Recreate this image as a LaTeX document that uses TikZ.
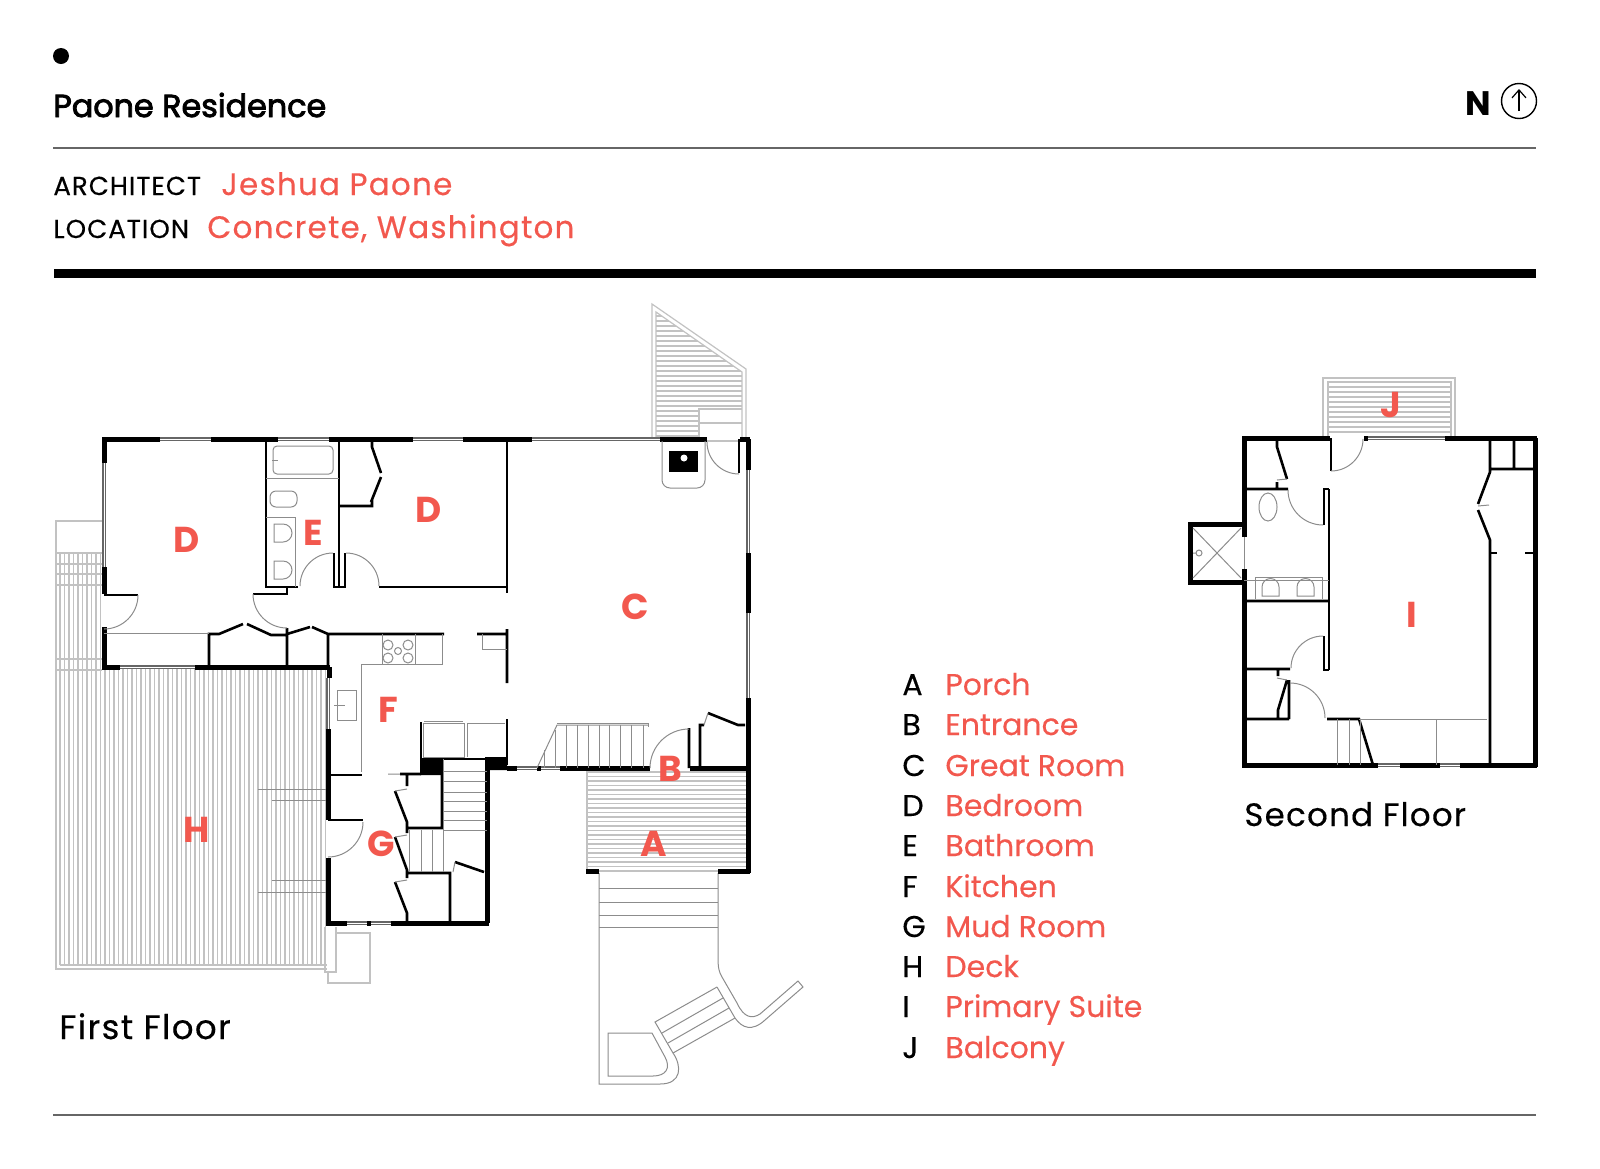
\documentclass[tikz,border=0pt]{standalone}
\usepackage{fontspec}
\usetikzlibrary{arrows.meta}
\setmainfont{Poppins}
\newfontfamily\plain[FakeBold=0.35]{Poppins}
\newfontfamily\spaced[LetterSpace=4,FakeBold=0.35]{Poppins}
\newfontfamily\heavy[FakeBold=2.6]{Poppins}
\definecolor{planred}{HTML}{F2584E}
\tikzset{
	thickwall/.style={line width=2.5pt},
	wall/.style={line width=1.3pt},
	fixt/.style={line width=0.5pt,black!45},
	pale/.style={line width=0.6pt,black!24},
	glass/.style={line width=0.5pt,white,preaction={draw,line width=1.6pt,black!60}},
	room/.style={planred,font=\fontsize{18}{18}\selectfont\bfseries},
	legendkey/.style={anchor=base west,font=\fontsize{15}{15}\selectfont\plain},
	legendname/.style={anchor=base west,planred,font=\fontsize{15}{15}\selectfont\plain},
	head/.style={anchor=base west,font=\fontsize{13}{13}\selectfont\spaced},
	headname/.style={anchor=base west,planred,font=\fontsize{15.5}{15.5}\selectfont\spaced},
	floorname/.style={anchor=base west,font=\fontsize{16.2}{16.2}\selectfont\spaced},
}
\begin{document}
\begin{tikzpicture}[x=0.5pt,y=-0.5pt]
	\useasboundingbox (0,0) rectangle (1600,1168);
	\fill (61,56) circle (8);
	\node[anchor=base west,inner sep=0pt,font=\fontsize{15.9}{15.9}\selectfont\heavy] (title) at (53,117) {Paone Residence};
	\node[inner sep=0pt,anchor=base west,font=\fontsize{17}{17}\selectfont\bfseries] (north) at (1465,115) {N};
	\draw[line width=0.7pt] (1519,101) circle (17.5);
	\draw[line width=0.6pt,-{Straight Barb[length=4pt,width=7pt]}] (1519,111) -- (1519,89);
	\draw[line width=0.75pt,black!60] (53,148) -- (1536,148);
	\draw[line width=4.5pt] (54,273) -- (1536,273);
	\draw[line width=0.75pt,black!60] (53,1115) -- (1536,1115);
	\node[head,inner sep=0pt] (archlabel) at (53,195) {ARCHITECT};
	\node[headname,inner sep=0pt] (archname) at (221,195) {Jeshua Paone};
	\node[head,inner sep=0pt] (loclabel) at (53,238) {LOCATION};
	\node[headname,inner sep=0pt] (locname) at (207,238) {Concrete, Washington};
	\node[floorname,inner sep=0pt,font=\fontsize{17}{17}\selectfont\spaced] (firstfloor) at (59,1039) {First Floor};
	\node[floorname,inner sep=0pt] (secondfloor) at (1244,826) {Second Floor};
	% legend
	\foreach \k/\n/\y in {A/Porch/695,B/Entrance/735,C/Great Room/776,D/Bedroom/816,E/Bathroom/856,F/Kitchen/897,G/Mud Room/937,H/Deck/977,I/Primary Suite/1017,J/Balcony/1058}{
		\node[legendkey,inner sep=0pt] (key\k) at (902,\y) {\k};
		\node[legendname,inner sep=0pt] (name\k) at (945,\y) {\n};
	}
	% decks
	\foreach \x in {60,64.5,...,326} \draw[pale] (\x,668) -- (\x,965);
	\foreach \x in {60,64.5,...,102} \draw[pale] (\x,553) -- (\x,668);
	\draw[pale] (102,521) -- (56,521) -- (56,969) -- (327,969);
	\draw[pale] (60,965) -- (327,965);
	\foreach \y in {553,564,574,585,659,670} \draw[pale] (56,\y) -- (102,\y);
	\draw[fixt] (258,789) -- (327,789) (272,800) -- (327,800) (272,880) -- (327,880) (258,892) -- (327,892);
	\draw[pale] (325,927) -- (325,972) -- (336,972) -- (336,927);
	\draw[pale] (336,933) -- (370,933) -- (370,983) -- (328,983) -- (328,972);
	\draw[pale] (652,437) -- (652,304) -- (746,369) -- (746,437);
	\draw[pale] (656,437) -- (656,312) -- (742,372) -- (742,437);
	\begin{scope}
		\clip (656,312) -- (742,372) -- (742,409) -- (699,409) -- (699,437) -- (656,437) -- cycle;
		\foreach \y in {316,321,...,436} \draw[pale] (656,\y) -- (742,\y);
	\end{scope}
	\draw[pale] (699,437) -- (699,409) -- (742,409) (699,423) -- (742,423);
	\draw[pale] (707,441) -- (740,441);
	\foreach \y in {382,387,...,434} \draw[pale] (1328,\y) -- (1451,\y);
	\draw[pale] (1323,438) -- (1323,378) -- (1455,378) -- (1455,438);
	\draw[pale] (1328,438) -- (1328,382) -- (1451,382) -- (1451,438);
	% porch and steps
	\foreach \y in {772,776.5,...,875} \draw[pale] (587,\y) -- (748,\y);
	\draw[pale] (587,770) -- (587,873);
	\foreach \y in {888,902,915,927} \draw[fixt] (599,\y) -- (718,\y);
	\draw[fixt] (599,873) -- (599,1084) -- (660,1084) .. controls (682,1084) and (682,1066) .. (673,1053) -- (655,1022) -- (717,987);
	\draw[fixt] (718,873) -- (718,957) .. controls (718,968) and (719,972) .. (722,977) -- (737,1003) .. controls (744,1018) and (752,1019) .. (760,1014) -- (798,981) -- (803,987) -- (765,1020) .. controls (752,1032) and (742,1028) .. (735,1018) -- (717,987);
	\draw[fixt] (735,1018) -- (673,1053) (723,998) -- (662,1033) (729,1008) -- (668,1043);
	\draw[fixt] (608,1033) -- (652,1033) -- (665,1057) .. controls (671,1068) and (666,1076) .. (653,1076) -- (608,1076) -- cycle;
	% first floor, outer walls
	\draw[thickwall] (160,439) -- (102,439) (104,439) -- (104,463) (104,567) -- (104,594) (104,627) -- (104,667) -- (120,667);
	\draw[thickwall] (211,439) -- (278,439) (329,439) -- (413,439) (463,439) -- (532,439) (660,439) -- (707,439) (740,439) -- (750,439) (748,439) -- (748,470) (748,553) -- (748,613) (748,698) -- (748,873);
	\draw[glass] (160,439) -- (211,439) (278,439) -- (329,439) (413,439) -- (463,439) (532,439) -- (660,439);
	\draw[glass] (104,463) -- (104,567) (748,470) -- (748,553) (748,613) -- (748,698) (120,667) -- (195,667) (328,678) -- (328,729) (347,923) -- (367,923) (371,923) -- (391,923) (517,768) -- (537,768) (541,768) -- (560,768);
	\draw[thickwall] (195,667) -- (330,667) (329,667) -- (329,678) (328,729) -- (328,820) (328,858) -- (328,925) (326,923) -- (347,923) (367,923) -- (371,923) (391,923) -- (489,923) (487,923) -- (487,770);
	\draw[thickwall] (507,768) -- (517,768) (537,768) -- (541,768) (560,768) -- (650,768) (690,768) -- (750,768) (586,871) -- (599,871) (718,871) -- (750,871);
	\fill (420,758) rectangle (443,775) (485,757) rectangle (507,770);
	% first floor, inner walls
	\draw[wall] (266,439) -- (266,587) -- (298,587) (339,439) -- (339,587) (334,553) -- (334,587) -- (345,587) -- (345,553);
	\draw[wall] (287,587) -- (287,594) -- (253,594) (379,587) -- (507,587) (507,439) -- (507,593);
	\draw[wall] (339,506) -- (372,506) -- (372,500) (372,439) -- (372,447) -- (381,473) (381,477) -- (371,502);
	\draw[wall] (209,667) -- (209,634) -- (219,634) -- (243,624) (247,624) -- (271,635) -- (287,635) (287,628) -- (287,667);
	\draw[wall] (287,634) -- (310,627) (312,627) -- (328,634) -- (328,667) (328,634) -- (444,634) (477,634) -- (507,634) (507,629) -- (507,683);
	\draw[wall] (104,595) -- (138,595) (328,820) -- (363,820) (328,775) -- (362,775) (421,722) -- (421,775) (421,759) -- (507,759) (507,719) -- (507,765);
	\draw[wall] (400,774) -- (421,774) (407,775) -- (407,786) (395,791) -- (407,822) -- (407,833) (442,775) -- (442,828) -- (406,828);
	\draw[wall] (395,837) -- (407,870) -- (407,878) (407,873) -- (450,873) -- (450,923) (395,882) -- (407,913) -- (407,923) (455,862) -- (484,872);
	\draw[wall] (689,728) -- (689,768) (700,768) -- (700,725) -- (704,725) (708,713) -- (738,725) -- (745,725);
	% first floor, doors and fixtures
	\foreach \cx/\cy/\r/\a/\b in {104/595/34/0/90,287/594/34/180/90,333/586/33/180/270,346/586/33/270/360,328/822/35/0/90,689/768/39/270/180,739/442/32/180/90}
		\draw[fixt] (\cx+\r*cos \a,\cy+\r*sin \a) arc[start angle=\a,end angle=\b,radius=\r];
	\draw[fixt,rounded corners=2pt] (273,446) rectangle (333,474);
	\draw[fixt] (272,460) -- (278,460);
	\draw[fixt] (266,478) -- (339,478) (266,517) -- (295,517) -- (295,587);
	\draw[fixt,rounded corners=3pt] (270,491) rectangle (297,507);
	\foreach \y in {524,561} \draw[fixt] (274,\y) -- (283,\y) arc[start angle=270,end angle=450,radius=9] -- (274,\y+18) -- cycle;
	\draw[fixt] (104,633) -- (209,633) (382,634) -- (382,664) (415,634) -- (415,664) (442,634) -- (442,664) -- (361,664) -- (361,772);
	\foreach \x/\y/\r in {388/645/5,408/645/5,388/658/5,408/658/5,398/651/3.5} \draw[fixt] (\x,\y) circle (\r);
	\draw[fixt] (482,634) -- (482,649) -- (507,649);
	\draw[fixt] (337,690) rectangle (356,720) (334,705) -- (345,705);
	\draw[fixt] (423,723) rectangle (464,757) (467,757) -- (467,723) -- (505,723) (424,721) -- (463,721);
	\draw[fixt] (443,759) -- (443,872) (487,771) -- (443,771);
	\foreach \y in {781,792,801,811,820,830} \draw[fixt] (443,\y) -- (487,\y);
	\foreach \x in {409,421,432} \draw[fixt] (\x,830) -- (\x,872);
	\draw[fixt] (395,791) -- (407,789) (395,837) -- (407,835) (395,882) -- (407,880) (455,862) -- (453,872) (708,713) -- (704,725) (388,774) -- (400,774);
	\draw[fixt] (537,768) -- (557,725) -- (648,725);
	\draw[fixt] (557,723) -- (648,723) -- (648,727);
	\foreach \x in {566,577,588,599,609,620,631,643} \draw[fixt] (\x,725) -- (\x,768);
	\draw[fixt] (544,750) -- (544,768) (555,730) -- (555,768);
	\draw[fixt,rounded corners=4pt] (662,441) -- (662,488) -- (705,488) -- (705,441);
	\fill (669,451) rectangle (698,472);
	\fill[white] (684,458) circle (3.5);
	\draw[wall] (739,439) -- (739,473);
	% second floor, outer walls
	\draw[thickwall] (1242,438) -- (1330,438) (1364,438) -- (1368,438) (1445,438) -- (1537,438) (1535,438) -- (1535,767) (1537,765) -- (1460,765) (1440,765) -- (1400,765) (1378,765) -- (1242,765) (1244,767) -- (1244,569) (1244,537) -- (1244,438);
	\draw[glass] (1368,438) -- (1445,438) (1378,765) -- (1400,765) (1440,765) -- (1460,765);
	\draw[thickwall] (1244,524) -- (1190,524) -- (1190,582) -- (1244,582);
	\draw[fixt] (1244,537) -- (1244,569);
	% second floor, inner walls
	\draw[wall] (1329,489) -- (1329,670) (1324,525) -- (1324,489) -- (1329,489) (1324,636) -- (1324,670) -- (1329,670);
	\draw[wall] (1277,438) -- (1277,447) -- (1287,479) (1277,482) -- (1277,489) (1244,489) -- (1288,489) (1244,601) -- (1329,601);
	\draw[wall] (1244,669) -- (1290,669) (1278,669) -- (1278,676) (1287,680) -- (1278,710) -- (1278,719) (1289,680) -- (1289,719) (1244,719) -- (1289,719);
	\draw[wall] (1327,719) -- (1359,719) -- (1373,765) (1490,765) -- (1490,540) -- (1478,510) (1478,504) -- (1490,472) -- (1490,438) (1490,469) -- (1535,469) (1514,438) -- (1514,469);
	\draw[wall] (1490,553) -- (1497,553) (1525,553) -- (1535,553) (1331,438) -- (1331,471);
	\foreach \cx/\cy/\r/\a/\b in {1331/439/32/90/0,1323/490/35/180/90,1323/668/32/270/180,1290/718/35/270/360}
		\draw[fixt] (\cx+\r*cos \a,\cy+\r*sin \a) arc[start angle=\a,end angle=\b,radius=\r];
	% second floor, fixtures
	\draw[fixt] (1193,528) -- (1241,578) (1241,528) -- (1193,578) (1199,553) circle (3) (1193,553) -- (1196,553);
	\draw[fixt] (1268,507) ellipse (9 and 14);
	\draw[fixt] (1255,599) -- (1255,577) -- (1322,577) -- (1322,599) (1244,580) -- (1329,580);
	\foreach \x in {1262,1297} \draw[fixt] (\x,596) -- (\x,587) arc[start angle=180,end angle=360,radius=8.5] -- (\x+17,596) -- cycle;
	\foreach \x in {1337,1349,1360} \draw[fixt] (\x,719) -- (\x,765);
	\draw[fixt] (1359,719) -- (1487,719) (1436,719) -- (1436,765);
	\draw[fixt] (1478,506) -- (1489,505) (1277,678) -- (1287,680) (1277,480) -- (1287,479);
	% room letters
	\foreach \l/\m/\x/\y in {A/porch/654/844,B/entry/670/769,C/great/635/607,D/bedw/187/540,D/bede/429/510,E/bath/313/533,F/kitchen/388/710,G/mud/381/844,H/deck/197/830,I/suite/1412/615,J/balcony/1391/405}
		\node[room,inner sep=0pt] (\m) at (\x,\y) {\l};
\end{tikzpicture}
\end{document}
